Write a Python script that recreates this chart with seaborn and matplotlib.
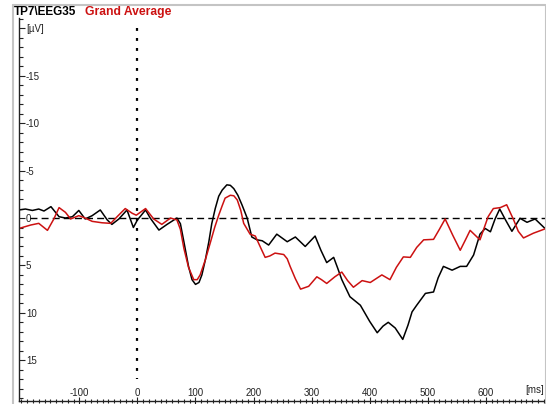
import matplotlib
matplotlib.use('Agg')
import matplotlib.pyplot as plt
import seaborn as sns
import numpy as np
import pandas as pd
from matplotlib.lines import Line2D
from matplotlib.ticker import MultipleLocator

# ERP traces (time in ms, amplitude in uV, negative up)
time_black = [-204, -193, -181, -170, -161, -149, -135, -124, -112, -101, -90, -78, -64, -52, -44,
              -32, -18, -7, 0, 14, 22, 37, 51, 68, 74, 80, 88, 94, 100, 106, 111, 117, 123, 128, 134,
              140, 146, 154, 160, 166, 173, 180, 189, 197, 206, 215, 226, 240, 258, 272, 289, 306,
              316, 326, 338, 345, 352, 366, 384, 400, 413, 423, 432, 444, 457, 466, 473, 481, 496,
              510, 518, 527, 542, 556, 567, 579, 590, 599, 608, 616, 624, 634, 645, 659, 671, 685, 702]
amp_black = [-0.85, -0.95, -0.8, -0.95, -0.74, -1.2, -0.14, 0.0, -0.14, -0.8, 0.1, -0.25, -0.85, 0.2, 0.67,
             0.1, -0.85, 1.0, 0.2, -0.85, 0.0, 1.27, 0.67, 0.0, 0.6, 2.5, 5.1, 6.5, 7.0, 6.8, 6.0, 4.4, 2.5,
             0.6, -1.0, -2.3, -2.95, -3.5, -3.45, -3.1, -2.4, -1.4, 0.0, 2.0, 2.3, 2.4, 2.85, 1.7, 2.5, 2.0,
             3.0, 1.9, 3.4, 4.7, 4.15, 5.3, 6.5, 8.3, 9.2, 10.9, 12.1, 11.4, 11.0, 11.6, 12.8, 11.3, 9.9,
             9.2, 7.95, 7.8, 6.3, 5.1, 5.5, 5.1, 5.1, 3.9, 1.7, 1.1, 1.45, 0.1, -0.95, 0.2, 1.4, 0.03, 0.45,
             0.1, 1.1]

time_red = [-204, -184, -170, -155, -144, -135, -124, -115, -101, -90, -78, -61, -46, -35, -21, -9, -2,
            14, 28, 42, 57, 68, 74, 80, 88, 97, 103, 108, 117, 126, 133, 140, 146, 151, 160, 166, 172,
            178, 183, 194, 203, 212, 220, 228, 237, 252, 258, 263, 272, 281, 295, 309, 317, 326, 340,
            352, 362, 372, 387, 401, 421, 435, 446, 458, 470, 481, 493, 510, 520, 530, 543, 556, 565,
            573, 590, 604, 613, 625, 636, 648, 656, 665, 682, 704]
amp_red = [1.1, 0.74, 0.56, 1.3, 0.1, -1.1, -0.6, 0.1, -0.25, 0.0, 0.35, 0.5, 0.56, -0.14, -1.0, -0.5, -0.3,
           -1.0, 0.1, 0.67, 0.0, 0.2, 1.2, 3.2, 5.2, 6.5, 6.5, 6.0, 4.4, 2.5, 1.0, -0.3, -1.3, -2.1, -2.4,
           -2.35, -1.9, -0.8, 0.56, 1.7, 1.9, 3.1, 4.15, 4.0, 3.7, 3.85, 4.3, 5.1, 6.4, 7.5, 7.2, 6.2, 6.5,
           6.9, 6.2, 5.7, 6.6, 7.3, 6.6, 6.8, 6.0, 6.5, 5.2, 4.1, 4.15, 3.1, 2.3, 2.25, 1.2, 0.1, 1.8, 3.4,
           2.3, 1.3, 2.3, -0.14, -1.0, -1.1, -1.4, 0.2, 1.4, 2.1, 1.6, 1.1]

y_ticks = [-20, -15, -10, -5, 0, 5, 10, 15]
y_labels = ['[µV]', '-15', '-10', '-5', '0', '5', '10', '15']
x_ticks = [-100, 0, 100, 200, 300, 400, 500, 600]
x_labels = ['-100', '0', '100', '200', '300', '400', '500', '600']

sns.set_style("white")
plt.rcParams['font.family'] = ['Liberation Sans', 'DejaVu Sans']
tick_size = 7.0

W, H = 546, 404
fig = plt.figure(figsize=(W / 100, H / 100), dpi=100)
ax = fig.add_axes([19 / W, 3 / H, (545 - 19) / W, (401 - 18) / H])

df = pd.concat([
    pd.DataFrame({'ms': time_black, 'uV': amp_black, 'series': 'TP7'}),
    pd.DataFrame({'ms': time_red, 'uV': amp_red, 'series': 'Grand Average'}),
])
sns.lineplot(data=df, x='ms', y='uV', hue='series', palette={'TP7': 'black', 'Grand Average': '#cc1111'},
             sort=False, estimator=None, legend=False, linewidth=1.1, ax=ax)

# reference lines
ax.vlines(0, -20, 17, colors='black', linewidth=1.6, linestyles=(0, (1.3, 3.2)), zorder=1)
ax.hlines(0, -185, 702, colors='black', linewidth=1.0, linestyles=(0, (5, 3)), zorder=1)

ax.set_xlim(-204, 702)
ax.set_ylim(19.3, -21.1)

ax.set_xticks(x_ticks)
ax.set_xticklabels(x_labels, fontsize=tick_size)
ax.set_yticks(y_ticks)
ax.set_yticklabels(y_labels, fontsize=tick_size)
ax.xaxis.set_minor_locator(MultipleLocator(10))
ax.yaxis.set_minor_locator(MultipleLocator(1))

ax.tick_params(axis='y', which='both', left=True)
ax.tick_params(axis='x', which='both', bottom=True)
ax.tick_params(axis='y', which='major', direction='in', length=4, width=0.8, pad=-5, colors='#222222')
ax.tick_params(axis='y', which='minor', direction='in', length=3, width=0.8, color='#222222')
ax.tick_params(axis='x', which='major', direction='inout', length=6, width=0.8, pad=-12.5, colors='#222222')
ax.tick_params(axis='x', which='minor', direction='inout', length=3, width=0.8, color='#222222')
for lbl in ax.get_yticklabels():
    lbl.set_horizontalalignment('left')
ax.text(700, 0.015, '[ms]', transform=ax.get_xaxis_transform(), ha='right', va='bottom',
        fontsize=tick_size, color='#222222')
ax.set_xlabel('')
ax.set_ylabel('')

for s in ['top', 'right']:
    ax.spines[s].set_visible(False)
for s in ['left', 'bottom']:
    ax.spines[s].set_color('#222222')
    ax.spines[s].set_linewidth(1.0)

# light frame around the panel
frame_kw = dict(color='#c4c4c4', linewidth=1.5)
fig.add_artist(Line2D([13 / W, 545 / W], [1 - 5 / H, 1 - 5 / H], **frame_kw))
fig.add_artist(Line2D([13 / W, 13 / W], [0, 1 - 5 / H], **frame_kw))
fig.add_artist(Line2D([545.5 / W, 545.5 / W], [0, 1 - 5 / H], **frame_kw))

fig.text(14 / W, 1 - 12 / H, 'TP7\\EEG35', fontsize=8.5, fontweight='bold', color='black', va='center')
fig.text(85 / W, 1 - 12 / H, 'Grand Average', fontsize=8.7, fontweight='bold', color='#cc1111', va='center')

fig.savefig('out.png', dpi=100, facecolor='white')
plt.close(fig)
